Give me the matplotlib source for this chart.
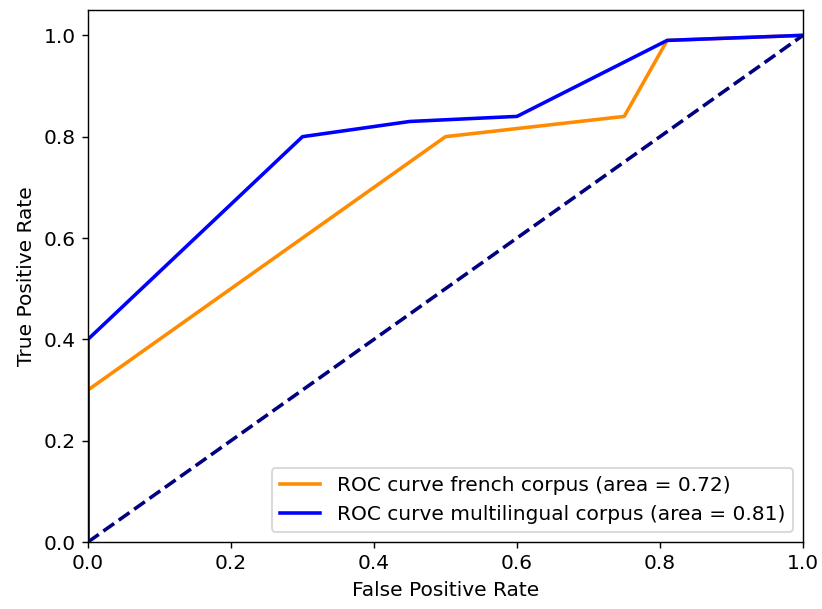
import matplotlib
matplotlib.use("Agg")
from matplotlib import pyplot

# ROC points for the two corpora
fpr_french = [0.0, 0.0, 0.5, 0.75, 0.81, 1.0]
tpr_french = [0.0, 0.3, 0.8, 0.84, 0.99, 1.0]
auc_french = 0.72

fpr_multi = [0.0, 0.0, 0.3, 0.45, 0.6, 0.81, 1.0]
tpr_multi = [0.0, 0.4, 0.8, 0.83, 0.84, 0.99, 1.0]
auc_multi = 0.81

chance = [0.0, 1.0]

lw = 2
pyplot.rcParams['font.size'] = 11.3

fig = pyplot.figure(figsize=(822 / 128, 609 / 128), dpi=128)
ax = fig.add_axes([88 / 822, 67 / 609, 715 / 822, 532 / 609])

ax.plot(fpr_french, tpr_french, color='darkorange', lw=lw,
        label='ROC curve french corpus (area = %0.2f)' % auc_french)
ax.plot(fpr_multi, tpr_multi, color='blue', lw=lw,
        label='ROC curve multilingual corpus (area = %0.2f)' % auc_multi)
ax.plot(chance, chance, color='navy', lw=lw, linestyle='--')

ax.set_xlim([0.0, 1.0])
ax.set_ylim([0.0, 1.05])
ax.set_xlabel('False Positive Rate')
ax.set_ylabel('True Positive Rate')
ax.legend(loc="lower right")

pyplot.savefig('out.png', dpi=128)
